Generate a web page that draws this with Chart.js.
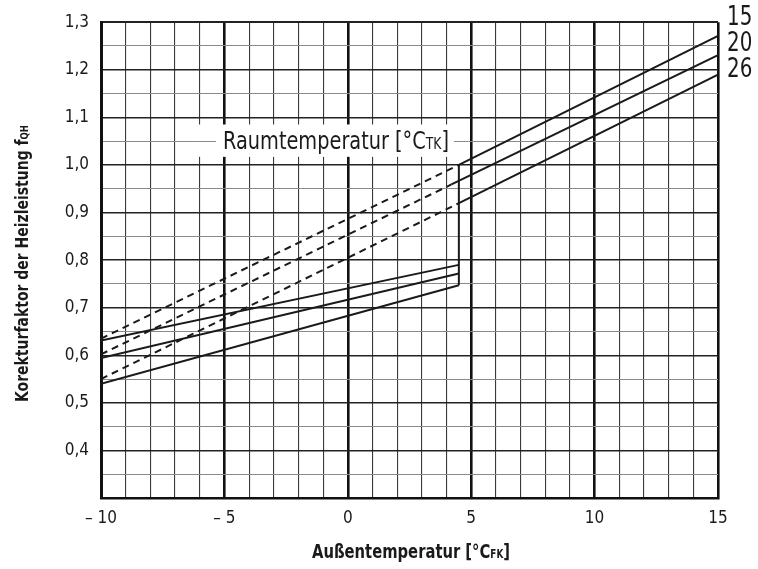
<!DOCTYPE html>
<html>
<head>
<meta charset="utf-8">
<title>Korrekturfaktor Heizleistung</title>
<script src="https://cdn.jsdelivr.net/npm/chart.js@4.4.0/dist/chart.umd.min.js"></script>
<style>
  html, body { margin: 0; padding: 0; background: #fff; }
</style>
</head>
<body>
<canvas id="chart" width="758" height="569"></canvas>
<script>
// room temperatures (°C TK), one curve family each
var roomTemps = [15, 20, 26];

// outdoor temperature range (°C FK)
var outMin = -10;
var outMax = 15;
var switchX = 4.5;

// lower branch: factor at -10 °C and at the switch point
var lowStart = [0.631, 0.594, 0.540];
var lowEnd = [0.790, 0.772, 0.747];

// dashed extension of the upper branch back to -10 °C
var dashStart = [0.635, 0.602, 0.550];

// upper branch: start point and value at +15 °C
var upperStartX = [4.5, 4.2, 4.4];
var upperStartY = [1.000, 0.959, 0.917];
var upperEnd = [1.271, 1.231, 1.190];

var yMin = 0.3, yMax = 1.3;

var NARROW = '"Liberation Sans Narrow", "DejaVu Sans Condensed", "Liberation Sans", sans-serif';
var INK = '#1a1a1a';

var solid = { borderColor: INK, borderWidth: 2, pointRadius: 0, tension: 0, fill: false };
var dashed = { borderColor: INK, borderWidth: 2, borderDash: [7, 5], pointRadius: 0, tension: 0, fill: false };

var datasets = [];
roomTemps.forEach(function (t, i) {
  datasets.push(Object.assign({ label: t + ' unten',
    data: [{ x: outMin, y: lowStart[i] }, { x: switchX, y: lowEnd[i] }] }, solid));
  datasets.push(Object.assign({ label: t + ' gestrichelt',
    data: [{ x: outMin, y: dashStart[i] }, { x: upperStartX[i], y: upperStartY[i] }] }, dashed));
  datasets.push(Object.assign({ label: t + ' oben',
    data: [{ x: upperStartX[i], y: upperStartY[i] }, { x: outMax, y: upperEnd[i] }] }, solid));
});
datasets.push(Object.assign({ label: 'Sprung',
  data: [{ x: switchX, y: lowEnd[2] }, { x: switchX, y: upperStartY[0] }] }, solid));

function isMult5(v) { return Math.abs(v / 5 - Math.round(v / 5)) < 1e-6; }
function isTenth(v) { return Math.round(v * 20) % 2 === 0; }

// text with a lowered, smaller suffix, squeezed to a given width
function subWidth(ctx, main, sub, after, size, weight) {
  ctx.font = weight + ' ' + size + 'px ' + NARROW;
  var w = ctx.measureText(main).width + (after ? ctx.measureText(after).width : 0);
  ctx.font = weight + ' ' + Math.round(size * 0.62) + 'px ' + NARROW;
  return w + ctx.measureText(sub).width;
}

function drawSub(ctx, x, y, main, sub, after, size, weight, width) {
  var natural = subWidth(ctx, main, sub, after, size, weight);
  ctx.save();
  ctx.translate(x, y);
  ctx.scale(width / natural, 1);
  ctx.font = weight + ' ' + size + 'px ' + NARROW;
  ctx.fillText(main, 0, 0);
  var w = ctx.measureText(main).width;
  ctx.font = weight + ' ' + Math.round(size * 0.62) + 'px ' + NARROW;
  ctx.fillText(sub, w, size * 0.1);
  w += ctx.measureText(sub).width;
  if (after) {
    ctx.font = weight + ' ' + size + 'px ' + NARROW;
    ctx.fillText(after, w, 0);
  }
  ctx.restore();
}

var annotations = {
  id: 'annotations',
  beforeDatasetsDraw: function (chart) {
    var ctx = chart.ctx, xs = chart.scales.x, ys = chart.scales.y;
    // label box for the room temperature
    var bx0 = xs.getPixelForValue(-6.1), bx1 = xs.getPixelForValue(4.9);
    var by0 = ys.getPixelForValue(1.085), by1 = ys.getPixelForValue(1.017);
    ctx.save();
    ctx.fillStyle = '#fff';
    ctx.fillRect(bx0, by0, bx1 - bx0, by1 - by0);
    var ly = Math.round(ys.getPixelForValue(1.05)) + 0.5;
    var tx = 223, tw = 226;
    ctx.strokeStyle = '#8a8a8a';
    ctx.lineWidth = 1.1;
    ctx.beginPath();
    ctx.moveTo(bx0, ly); ctx.lineTo(tx - 7, ly);
    ctx.moveTo(tx + tw + 5, ly); ctx.lineTo(bx1, ly);
    ctx.stroke();
    ctx.fillStyle = INK;
    ctx.textBaseline = 'middle';
    ctx.textAlign = 'left';
    drawSub(ctx, tx, ly + 1, 'Raumtemperatur [°C', 'TK', ']', 25, 'normal', tw);
    ctx.restore();
  },
  afterDraw: function (chart) {
    var ctx = chart.ctx, area = chart.chartArea;
    ctx.save();
    ctx.fillStyle = INK;
    ctx.textBaseline = 'middle';
    ctx.textAlign = 'left';
    // curve labels at the right edge
    ctx.font = '26px ' + NARROW;
    var labelY = [18, 44, 70];
    roomTemps.forEach(function (t, i) {
      ctx.save();
      ctx.translate(area.right + 9, labelY[i]);
      ctx.scale(0.85, 1);
      ctx.fillText(String(t), 0, 0);
      ctx.restore();
    });
    // x axis title
    drawSub(ctx, 312, 553, 'Außentemperatur [°C', 'FK', ']', 20, 'bold', 198);
    // y axis title
    ctx.translate(23, 402);
    ctx.rotate(-Math.PI / 2);
    drawSub(ctx, 0, 0, 'Korekturfaktor der Heizleistung f', 'QH', '', 18, 'bold', 277);
    ctx.restore();
  }
};

new Chart(document.getElementById('chart'), {
  type: 'line',
  data: { datasets: datasets },
  options: {
    responsive: false,
    animation: false,
    layout: { padding: { top: 18, right: 40, left: 0, bottom: 0 } },
    plugins: { legend: { display: false }, tooltip: { enabled: false } },
    scales: {
      x: {
        type: 'linear', min: outMin, max: outMax,
        afterFit: function (s) { s.height = 71; },
        border: { color: '#111', width: 2.6 },
        grid: {
          drawTicks: false,
          color: function (c) { return isMult5(c.tick.value) ? '#111' : '#3a3a3a'; },
          lineWidth: function (c) { return isMult5(c.tick.value) ? 2.6 : 1.1; }
        },
        ticks: {
          stepSize: 1, autoSkip: false, maxRotation: 0, padding: 10,
          color: INK, font: { family: NARROW, size: 17 },
          callback: function (v) {
            if (!isMult5(v)) return '';
            return v < 0 ? '– ' + Math.abs(v) : String(v);
          }
        }
      },
      y: {
        min: yMin, max: yMax,
        afterFit: function (s) { s.width = 101; },
        border: { color: '#111', width: 3 },
        grid: {
          drawTicks: false,
          color: function (c) { return isTenth(c.tick.value) ? '#222' : '#8a8a8a'; },
          lineWidth: function (c) {
            var v = c.tick.value;
            if (Math.abs(v - yMax) < 1e-6) return 2;
            return isTenth(v) ? 1.4 : 1.1;
          }
        },
        ticks: {
          stepSize: 0.05, autoSkip: false, padding: 12,
          color: INK, font: { family: NARROW, size: 17 },
          callback: function (v) {
            if (!isTenth(v) || v < 0.35) return '';
            return v.toFixed(1).replace('.', ',');
          }
        }
      }
    }
  },
  plugins: [annotations]
});
</script>
</body>
</html>
